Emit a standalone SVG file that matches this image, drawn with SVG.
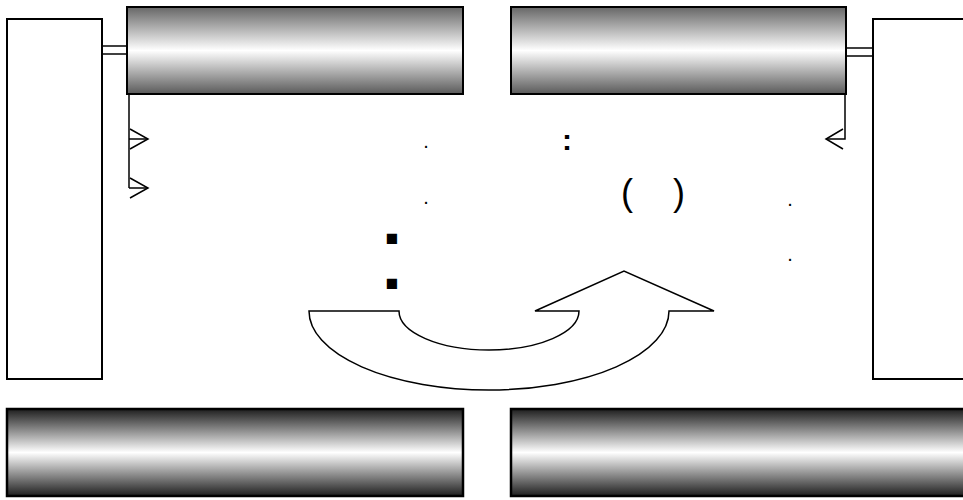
<svg xmlns="http://www.w3.org/2000/svg" width="963" height="500" viewBox="0 0 963 500">
<defs>
<linearGradient id="gTop" x1="0" y1="0" x2="0" y2="1">
<stop offset="0" stop-color="#666666"/>
<stop offset="0.5" stop-color="#ffffff"/>
<stop offset="1" stop-color="#5a5a5a"/>
</linearGradient>
<linearGradient id="gBot" x1="0" y1="0" x2="0" y2="1">
<stop offset="0" stop-color="#1e1e1e"/>
<stop offset="0.5" stop-color="#ffffff"/>
<stop offset="1" stop-color="#1e1e1e"/>
</linearGradient>
<style>
.box{fill:#fff;stroke:#000;stroke-width:2}
.bar{fill:url(#gTop);stroke:#000;stroke-width:2}
.barb{fill:url(#gBot);stroke:#000;stroke-width:2.5}
.ln{fill:none;stroke:#000;stroke-width:1.5}
.t{font-family:"Liberation Sans",Arial,sans-serif;fill:#000}
</style>
</defs>
<rect width="963" height="500" fill="#fff"/>
<g id="left-panel"><rect class="box" x="7" y="19" width="95" height="360"/></g>
<g id="right-panel"><rect class="box" x="873" y="19" width="100" height="360"/></g>
<g id="top-left-bar"><rect class="bar" x="127" y="7" width="336" height="87"/></g>
<g id="top-right-bar"><rect class="bar" x="511" y="7" width="335" height="87"/></g>
<g id="bottom-left-bar"><rect class="barb" x="7" y="409" width="456" height="87"/></g>
<g id="bottom-right-bar"><rect class="barb" x="511" y="409" width="460" height="87"/></g>
<g id="connectors">
<line class="ln" x1="102" y1="46" x2="128" y2="46"/>
<line class="ln" x1="102" y1="54" x2="128" y2="54"/>
<line class="ln" x1="846" y1="48" x2="873" y2="48"/>
<line class="ln" x1="846" y1="56" x2="873" y2="56"/>
<polyline class="ln" points="129,94 129,188"/>
<line class="ln" x1="129" y1="139" x2="148" y2="139"/>
<polyline class="ln" points="130,129 148,139 130,149"/>
<line class="ln" x1="129" y1="188" x2="148" y2="188"/>
<polyline class="ln" points="130,178 148,188 130,198"/>
<polyline class="ln" points="845,94 845,139 826,139"/>
<polyline class="ln" points="843,129 826,139 843,149"/>
</g>
<g id="u-arrow">
<path class="ln" d="M309,311 L399,311 A90,39 0 0 0 579,311 L535,311 L624,271 L714,311 L669,311 A180,79 0 0 1 309,311 Z"/>
</g>
<g id="labels">
<text class="t" x="426" y="148" font-size="20" text-anchor="middle">.</text>
<text class="t" x="426" y="204" font-size="20" text-anchor="middle">.</text>
<text class="t" x="567" y="150" font-size="30" font-weight="bold" text-anchor="middle">:</text>
<text class="t" x="627" y="205" font-size="36" text-anchor="middle">(</text>
<text class="t" x="679" y="205" font-size="36" text-anchor="middle">)</text>
<text class="t" x="790" y="206" font-size="20" text-anchor="middle">.</text>
<text class="t" x="790" y="261" font-size="20" text-anchor="middle">.</text>
<text class="t" x="392" y="245" font-size="21" text-anchor="middle">■</text>
<text class="t" x="392" y="290" font-size="21" text-anchor="middle">■</text>
</g>
</svg>
